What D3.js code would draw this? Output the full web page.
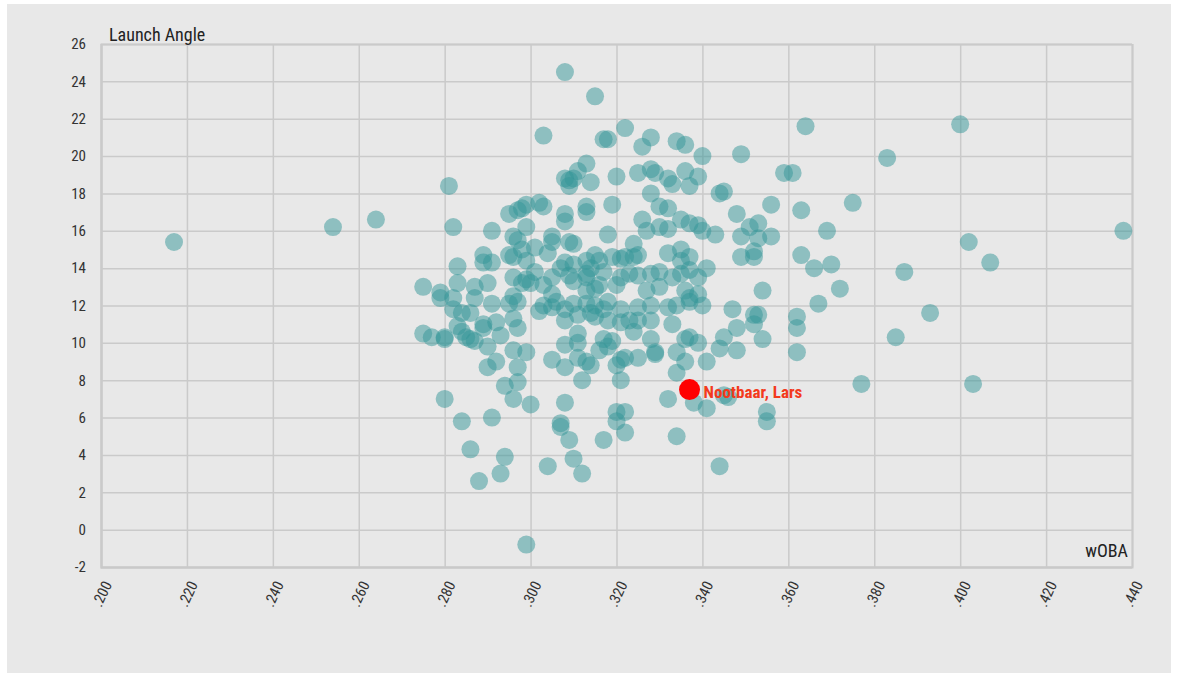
<!DOCTYPE html>
<html>
<head>
<meta charset="utf-8">
<script src="https://cdn.jsdelivr.net/npm/d3@7"></script>
<style>
  body { margin: 0; background: #fff; }
  text { font-family: "Roboto Condensed", "Liberation Sans Narrow", "DejaVu Sans Condensed", Roboto, sans-serif; }
</style>
</head>
<body>
<svg></svg>
<script>
// wOBA / launch angle per player
const players = [
  [.217,15.4],[.254,16.2],[.264,16.6],[.438,16.0],[.400,21.7],[.383,19.9],[.402,15.4],[.407,14.3],[.387,13.8],[.393,11.6],
  [.385,10.3],[.377,7.8],[.403,7.8],[.375,17.5],[.364,21.6],[.359,19.1],[.361,19.1],[.363,17.1],[.369,16.0],[.363,14.7],
  [.366,14.0],[.370,14.2],[.372,12.9],[.367,12.1],[.362,11.4],[.362,10.8],[.362,9.5],
  [.354,12.8],[.354,10.2],[.356,15.7],[.356,17.4],[.349,20.1],[.353,16.4],[.353,15.6],[.351,16.2],[.349,15.7],[.349,14.6],
  [.352,14.6],[.352,14.9],[.352,11.5],[.353,11.5],[.352,11.0],[.348,10.8],[.348,9.6],[.345,10.3],[.344,9.7],[.347,11.8],
  [.348,16.9],[.344,18.0],[.345,18.1],[.343,15.8],[.346,7.1],[.345,7.2],[.355,6.3],[.355,5.8],[.344,3.4],[.334,5.0],
  [.341,6.5],[.338,6.8],[.341,9.0],[.336,9.0],[.334,8.4],[.332,7.0],[.337,10.3],[.339,10.0],[.336,10.2],[.334,9.5],
  [.329,9.4],[.329,9.5],[.325,9.2],[.321,9.1],[.320,8.8],[.322,9.2],[.316,9.6],[.318,9.8],[.317,10.2],[.319,10.1],
  [.321,8.0],[.320,6.3],[.322,6.3],[.320,5.8],[.322,5.2],[.317,4.8],[.324,10.6],[.323,11.2],[.325,11.2],[.328,10.2],
  [.333,11.0],[.317,11.8],[.321,11.8],[.325,11.9],[.328,12.0],[.332,11.9],[.334,12.0],[.337,12.2],[.340,12.0],
  [.322,21.5],[.317,20.9],[.318,20.9],[.328,21.0],[.326,20.5],[.334,20.8],[.336,20.6],[.340,20.0],[.315,23.2],[.308,24.5],
  [.303,21.1],[.320,18.9],[.325,19.1],[.328,19.3],[.329,19.1],[.332,18.8],[.333,18.5],[.336,19.2],[.339,18.9],[.337,18.4],
  [.328,18.0],[.319,17.4],[.330,17.3],[.332,17.2],[.326,16.6],[.327,16.0],[.332,16.1],[.335,16.6],[.337,16.4],[.339,16.3],
  [.340,16.0],[.318,15.8],[.324,15.3],[.322,14.6],[.324,14.6],[.332,14.8],[.335,15.0],[.335,14.4],[.337,14.6],[.341,14.0],
  [.339,13.5],[.325,14.7],[.321,14.5],[.319,14.6],[.315,14.7],[.316,14.4],[.313,14.4],[.314,14.0],[.317,13.8],[.321,13.5],
  [.323,13.7],[.325,13.6],[.328,13.7],[.330,13.8],[.330,13.0],[.327,12.8],[.320,13.1],[.316,13.1],[.313,13.5],[.310,13.3],
  [.315,12.9],[.305,12.6],[.336,12.8],[.337,12.4],[.339,12.6],[.337,13.9],[.335,13.7],[.333,13.5],[.330,16.2],
  [.302,17.5],[.303,17.3],[.299,17.4],[.298,17.2],[.308,16.9],[.308,16.5],[.313,17.3],[.313,17.0],[.305,15.7],[.309,15.4],
  [.310,15.3],[.301,15.1],[.298,15.0],[.299,14.4],[.308,14.3],[.310,14.2],[.307,14.0],[.299,13.4],[.300,13.2],[.303,13.1],
  [.313,19.6],[.311,19.2],[.310,18.8],[.309,18.7],[.309,18.4],[.308,18.8],[.314,18.6],[.295,16.9],[.297,17.1],[.299,16.2],
  [.296,15.7],[.304,14.8],[.301,13.8],[.282,16.2],[.281,18.4],[.291,16.0],[.306,12.2],[.303,12.0],[.302,11.7],[.305,11.9],
  [.309,13.6],[.313,12.8],[.315,12.0],[.315,11.4],[.318,12.2],[.321,11.1],[.328,11.2],
  [.275,10.5],[.277,10.3],[.280,10.2],[.280,10.3],[.284,10.6],[.285,10.3],[.286,10.2],[.287,10.1],[.284,11.6],[.286,11.6],
  [.289,11.0],[.289,10.8],[.292,11.1],[.293,10.4],[.290,9.8],[.296,11.3],[.297,10.8],[.296,9.6],[.299,9.5],[.292,9.0],
  [.290,8.7],[.297,8.7],[.297,7.9],[.294,7.7],[.296,7.0],[.300,6.7],[.280,7.0],[.284,5.8],[.291,6.0],[.286,4.3],
  [.294,3.9],[.293,3.0],[.288,2.6],[.304,3.4],[.308,6.8],[.307,5.7],[.307,5.5],[.309,4.8],[.310,3.8],[.312,3.0],
  [.305,9.1],[.308,8.7],[.312,8.0],[.311,10.5],[.311,10.0],[.311,9.2],[.308,9.9],[.313,9.0],[.314,8.8],[.308,11.8],
  [.308,11.2],[.311,11.5],[.314,11.6],[.318,11.2],[.282,11.8],[.279,12.4],[.282,12.4],[.287,12.4],[.291,12.1],[.295,12.1],
  [.297,12.2],[.283,10.9],[.299,-0.8],
  [.297,15.5],[.305,15.4],[.289,14.7],[.289,14.3],[.291,14.3],[.295,14.7],[.296,14.6],[.283,14.1],[.275,13.0],[.279,12.7],
  [.283,13.2],[.287,13.0],[.290,13.2],[.296,13.5],[.298,13.2],[.305,13.5],[.296,12.5],[.313,13.7],[.310,12.1],[.313,12.1]
];

const highlightName = "Nootbaar, Lars";
const highlightWoba = .337;
const highlightLA = 7.5;

const xTicks = [.200, .220, .240, .260, .280, .300, .320, .340, .360, .380, .400, .420, .440];
const yTicks = [-2, 0, 2, 4, 6, 8, 10, 12, 14, 16, 18, 20, 22, 24, 26];

const WIDTH = 1178;
const HEIGHT = 678;
const LEFT = 101, RIGHT = 1132, TOP = 44, BOTTOM = 567;

let svg = d3.select('svg').attr('width', WIDTH).attr('height', HEIGHT);

// grey panel behind everything
svg.append('rect').attr('x', 7).attr('y', 4).attr('width', 1164).attr('height', 669).attr('fill', '#e8e8e8');

let xScale = d3.scaleLinear().domain([.2, .44]).range([LEFT, RIGHT]);
let yScale = d3.scaleLinear().domain([-2, 26]).range([BOTTOM, TOP]);

// plain hyphen for negatives, like the original
let yAxis = svg.append('g').attr('transform', `translate(${LEFT},0)`)
  .call(d3.axisLeft(yScale).tickValues(yTicks).tickSize(-(RIGHT - LEFT)).tickPadding(15).tickFormat(d => String(d)));

let xAxis = svg.append('g').attr('transform', `translate(0,${BOTTOM})`)
  .call(d3.axisBottom(xScale).tickValues(xTicks).tickSize(-(BOTTOM - TOP)).tickFormat(d => d3.format('.3f')(d).slice(1)));

svg.selectAll('.domain').attr('stroke', '#c9c9c9').attr('stroke-width', 2);
svg.selectAll('.tick line').attr('stroke', '#cacaca').attr('stroke-width', 1.5);
svg.selectAll('.tick text').attr('fill', '#333').style('font-size', '15px');

xAxis.selectAll('.tick text')
  .attr('x', 0).attr('y', 0).attr('dy', '0.35em')
  .attr('text-anchor', 'end')
  .attr('transform', 'translate(6,15) rotate(-65)');

svg.append('text').attr('x', LEFT + 8).attr('y', TOP - 3)
  .style('font-size', '18px').attr('fill', '#222').text('Launch Angle');

svg.append('text').attr('x', RIGHT - 4).attr('y', BOTTOM - 10).attr('text-anchor', 'end')
  .style('font-size', '18px').attr('fill', '#222').text('wOBA');

svg.append('g').selectAll('circle')
  .data(players)
  .join('circle')
  .attr('cx', d => xScale(d[0]))
  .attr('cy', d => yScale(d[1]))
  .attr('r', 9)
  .attr('fill', '#349698')
  .attr('fill-opacity', 0.5);

svg.append('circle')
  .attr('cx', xScale(highlightWoba)).attr('cy', yScale(highlightLA))
  .attr('r', 10.5).attr('fill', '#ff0000');

svg.append('text')
  .attr('x', xScale(highlightWoba) + 14).attr('y', yScale(highlightLA) + 8)
  .style('font-size', '17px').style('font-weight', 'bold')
  .attr('fill', '#f33a1c').text(highlightName);
</script>
</body>
</html>
